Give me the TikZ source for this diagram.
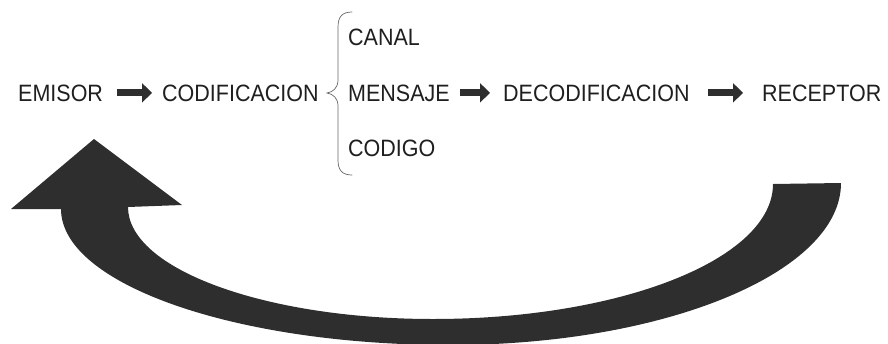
\documentclass[tikz,border=0pt]{standalone}
\usepackage{fontspec}
\setmainfont{Liberation Sans}
\usetikzlibrary{arrows.meta}
\newcommand{\captext}[1]{\scalebox{1}[1.1]{#1}}

\begin{document}
\begin{tikzpicture}[x=1pt,y=-1pt,
  lbl/.style={anchor=base west, inner sep=0pt, text=black!88,
              font=\fontsize{21.5}{24}\selectfont},
  flow/.style={draw=black!82, line width=7pt,
               -{Triangle[width=19pt,length=10pt]}},
  bracket/.style={draw=black!60, line width=0.7pt, line cap=round},
  bigarrow/.style={fill=black!82}]
\useasboundingbox (0,0) rectangle (888,343);

% main row
\node[lbl] (emisor)   at (18,101)  {\captext{EMISOR}};
\node[lbl] (codif)    at (162,101) {\captext{CODIFICACION}};
\node[lbl] (mensaje)  at (348,101) {\captext{MENSAJE}};
\node[lbl] (decodif)  at (503,101) {\captext{DECODIFICACION}};
\node[lbl] (receptor) at (762,101) {\captext{RECEPTOR}};

% items grouped by the brace
\node[lbl] (canal)  at (348,45)  {\captext{CANAL}};
\node[lbl] (codigo) at (348,156) {\captext{CODIGO}};

% block arrows between stages
\draw[flow, shorten <=14pt, shorten >=10pt] (emisor.east) -- (emisor.east -| codif.west);
\draw[flow, shorten <=10pt, shorten >=13pt] (mensaje.east) -- (mensaje.east -| decodif.west);
\draw[flow, shorten <=18pt, shorten >=19pt] (decodif.east) -- (decodif.east -| receptor.west);

% curly brace
\draw[bracket] (352,12) .. controls (342,12) and (338,17) .. (338,27)
  -- (338,80) .. controls (338,88) and (333,92) .. (327,93)
  .. controls (333,94) and (338,98) .. (338,106)
  -- (338,160) .. controls (338,170) and (342,175) .. (352,175);

% feedback arrow
\fill[bigarrow] (841,183) .. controls (841,272) and (666,345) .. (450,345)
  .. controls (235,345) and (61,284) .. (61,209)
  -- (11,209) -- (94,139) -- (182,205) -- (128,207)
  .. controls (128,269) and (265,319) .. (433,319)
  .. controls (621,319) and (773,259) .. (773,184) -- cycle;
\end{tikzpicture}
\end{document}
